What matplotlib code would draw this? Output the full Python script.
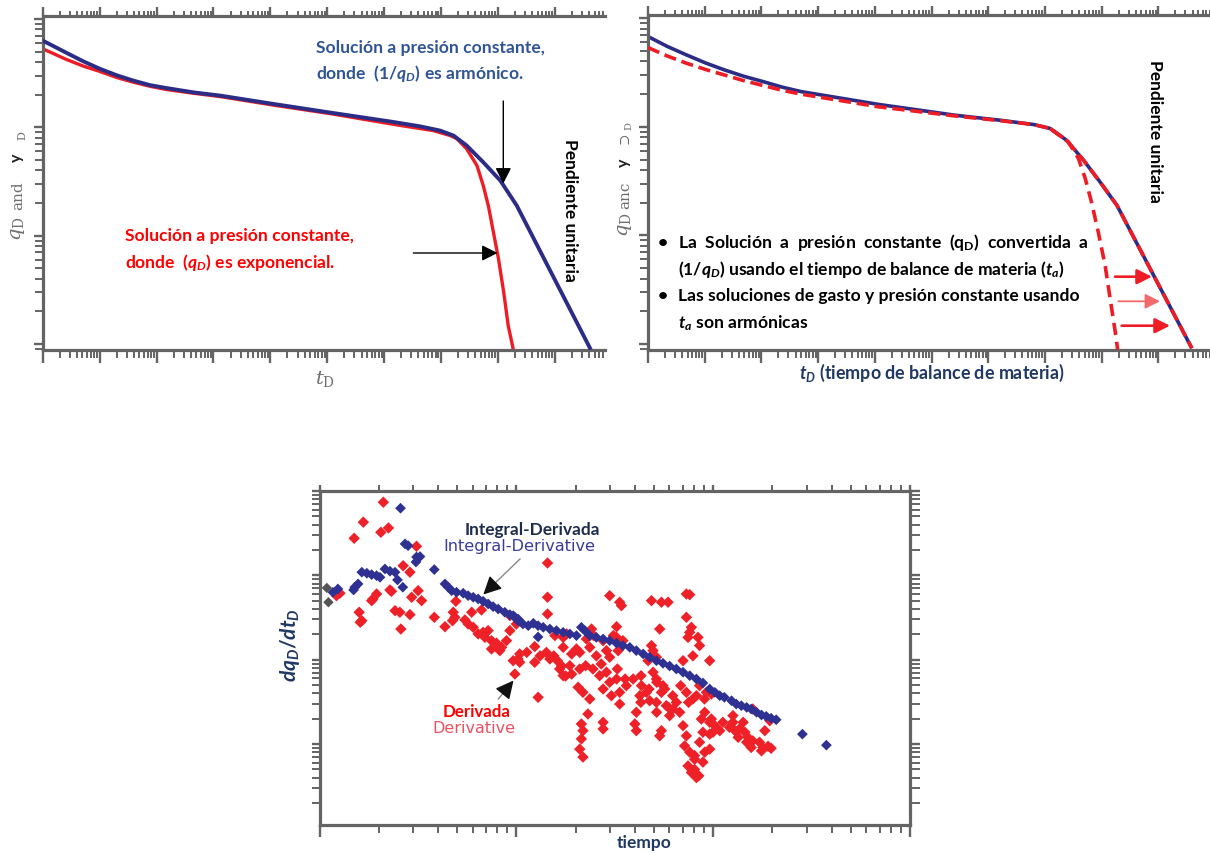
import numpy as np
import matplotlib
matplotlib.use("Agg")
import matplotlib.pyplot as plt
from matplotlib.ticker import LogLocator, NullFormatter
from matplotlib.patches import FancyArrowPatch, ArrowStyle

# ------------------------------------------------------------------ data
# Panel 1 : constant-pressure solutions (harmonic / exponential)
p1_harm_t = [1, 1.54, 2.63, 5.18, 10.2, 20.0, 38.9, 76.9, 151, 447, 1320, 1.15e4,
             1.20e5, 1.29e6, 4.27e6, 9.55e6, 1.66e7, 2.82e7, 5.50e7, 1.10e8, 2.14e8, 4.27e9]
p1_harm_q = [63.1, 56.2, 48.6, 40.6, 34.6, 30.2, 27.0, 24.5, 23.0, 21.0, 19.6, 16.4,
             13.6, 11.3, 10.2, 9.33, 8.38, 6.78, 4.76, 3.22, 1.89, 0.0885]
p1_exp_t = [1, 1.54, 2.63, 5.18, 10.2, 20.0, 38.9, 76.9, 151, 447, 1320, 1.15e4,
            1.20e5, 1.91e6, 7.24e6, 1.45e7, 1.91e7, 2.82e7, 4.27e7, 5.50e7, 6.76e7,
            8.32e7, 1.02e8, 1.26e8, 1.51e8, 1.86e8]
p1_exp_q = [53.0, 47.9, 42.2, 36.7, 32.7, 28.8, 26.1, 23.9, 22.3, 20.6, 19.2, 16.0,
            13.3, 10.4, 9.33, 8.38, 7.82, 6.31, 4.43, 2.90, 1.89,
            1.07, 0.61, 0.30, 0.148, 0.0885]

# Panel 2 : material-balance-time curves
p2_harm_t = [1, 2.19, 4.79, 10.4, 22.4, 49.0, 107, 232, 501, 1.15e4, 2.57e5, 1.62e6,
             6.31e6, 1.23e7, 2.40e7, 4.79e7, 9.33e7, 1.86e8, 3.89e9]
p2_harm_q = [67.9, 55.0, 45.9, 38.7, 33.4, 29.2, 26.1, 23.2, 21.1, 16.1, 12.8, 11.5,
             10.5, 9.66, 7.53, 4.92, 3.11, 1.89, 0.0912]
p2_conv_t = [1, 2.19, 4.79, 10.4, 22.4, 49.0, 107, 232, 501, 1.15e4, 2.57e5, 1.62e6,
             6.31e6, 1.23e7, 2.40e7, 4.79e7, 9.33e7, 1.86e8, 3.89e9]
p2_conv_q = [53.7, 44.9, 38.5, 33.7, 30.0, 26.6, 24.0, 21.7, 20.0, 15.3, 12.6, 11.4,
             10.5, 9.66, 7.53, 4.92, 3.11, 1.89, 0.0912]
p2_exp_t = [1.23e7, 2.57e7, 3.89e7, 5.13e7, 6.61e7, 8.71e7, 1.15e8, 1.41e8, 1.74e8, 1.91e8]
p2_exp_q = [9.66, 7.28, 5.11, 3.34, 2.03, 1.07, 0.528, 0.261, 0.128, 0.089]

# Panel 3 : integral-derivative (blue) and derivative (red)
intder_t = [2.58, 2.72, 2.82, 3.11, 3.24, 3.09, 3.83, 1.64, 1.74, 1.84,
            1.95, 2.03, 2.15, 2.28, 2.42, 1.57, 1.51, 1.49, 1.24, 1.17,
            2.49, 2.65, 4.34, 4.51, 4.69, 4.97, 5.37, 5.69, 6.04, 6.40,
            6.78, 7.19, 7.62, 8.09, 8.74, 9.27, 9.83, 10.2, 9.64, 10.2,
            10.8, 11.5, 12.2, 12.9, 13.7, 14.8, 16.0, 17.3, 18.7, 20.2,
            21.4, 22.3, 23.6, 25.5, 27.6, 29.8, 32.3, 34.8, 37.7, 40.7,
            44.1, 47.6, 51.5, 55.6, 60.1, 65.0, 70.3, 76.0, 82.2, 88.7,
            96.0, 102, 108, 114, 124, 131, 139, 148, 156, 166,
            176, 186, 197, 209, 284, 376, 12.9]
intder_q = [625, 236, 225, 165, 167, 144, 117, 109, 106, 102,
            99.1, 94.8, 119, 112, 109, 79.1, 72.3, 67.1, 69.0, 63.0,
            88.2, 72.3, 79.1, 72.3, 65.8, 63.0, 61.4, 57.4, 55.0, 52.5,
            49.3, 45.8, 42.6, 39.9, 36.5, 34.2, 31.8, 29.0, 33.3, 30.4,
            26.5, 25.3, 27.0, 25.3, 24.2, 23.1, 22.1, 21.1, 20.2, 19.3,
            24.2, 22.1, 19.3, 18.4, 17.6, 16.8, 15.7, 14.7, 14.0, 12.8,
            11.7, 10.7, 9.73, 9.06, 8.41, 7.76, 7.10, 6.46, 5.90, 5.29,
            4.49, 4.10, 3.74, 3.58, 3.26, 2.98, 2.85, 2.72, 2.60, 2.38,
            2.21, 2.13, 2.02, 1.94, 1.31, 0.97, 18.6]
first_t = [1.09, 1.11]
first_q = [70.9, 48.0]

deriv_t = [2.11, 1.67, 2.24, 2.05, 1.50, 3.11, 2.66, 2.88, 1.27, 1.22,
           1.95, 1.87, 1.84, 2.28, 2.32, 3.17, 2.94, 3.30, 1.59, 1.64,
           1.61, 2.42, 2.56, 2.88, 2.59, 3.83, 4.78, 4.87, 4.74, 4.93,
           4.34, 5.93, 5.48, 5.69, 6.65, 6.04, 6.40, 6.78, 7.19, 6.92,
           7.48, 7.93, 8.41, 8.91, 8.24, 7.48, 9.64, 10.2, 10.0, 9.27,
           14.4, 14.4, 14.4, 29.8, 33.5, 34.2, 48.6, 54.6, 59.0, 73.1,
           76.0, 73.1, 77.5, 76.0, 74.5, 83.7, 53.5, 32.3, 24.1, 9.27,
           15.7, 18.0, 17.3, 12.4, 11.3, 10.4, 13.2, 14.2, 14.8, 17.3,
           19.1, 20.2, 21.0, 22.7, 23.6, 25.5, 27.6, 28.7, 29.8, 32.3,
           34.8, 32.9, 48.6, 49.5, 46.7, 51.5, 70.3, 78.9, 96.0, 85.3,
           10.4, 12.4, 9.83, 12.9, 16.6, 17.3, 18.7, 19.1, 21.0, 20.6,
           21.8, 23.6, 23.1, 21.4, 21.8, 21.4, 21.0, 21.8, 27.6, 27.6,
           24.5, 26.5, 28.7, 29.8, 27.6, 30.4, 33.5, 32.3, 36.2, 33.5,
           40.7, 40.0, 40.7, 39.2, 43.2, 45.8, 42.4, 47.6, 51.5, 49.5,
           55.6, 54.6, 51.5, 54.6, 53.5, 57.8, 62.5, 60.1, 65.0, 67.6,
           70.3, 73.1, 71.6, 76.0, 74.5, 77.5, 82.2, 80.5, 85.3, 88.7,
           87.1, 96.0, 99.8, 96.0, 88.7, 73.1, 78.9, 85.3, 92.4, 97.9,
           97.9, 102, 96.0, 108, 112, 126, 126, 121, 129, 136,
           134, 142, 145, 150, 148, 156, 159, 159, 183, 172,
           179, 190, 176, 197, 194, 15.5, 16.2, 17.0, 17.8, 22.5,
           32.6, 35.7, 43.0, 47.2, 51.7, 56.7, 62.3, 68.4, 75.0, 82.2,
           90.3, 42.9, 51.6, 59.4, 80.4, 84.5, 80.4, 90.6, 90.6, 24.7,
           31.1, 27.0]
deriv_q = [736, 427, 365, 324, 275, 221, 130, 109, 61.4, 57.4,
           60.1, 52.5, 50.1, 67.1, 64.7, 65.8, 55.0, 50.1, 36.5, 29.0,
           27.8, 38.1, 36.5, 34.2, 23.1, 31.8, 36.5, 31.8, 29.0, 49.3,
           24.6, 36.5, 29.6, 26.5, 38.9, 24.2, 20.2, 21.1, 22.1, 18.4,
           16.8, 15.7, 14.0, 16.8, 12.8, 13.4, 9.73, 10.2, 26.5, 22.1,
           140, 55.0, 34.8, 57.4, 48.0, 43.7, 50.1, 48.0, 48.0, 60.1,
           59.0, 31.8, 24.2, 21.1, 18.4, 18.4, 23.1, 24.6, 23.1, 33.3,
           19.3, 20.2, 18.4, 14.3, 12.2, 11.7, 11.1, 12.2, 10.2, 14.0,
           11.7, 13.4, 12.2, 17.6, 14.0, 11.1, 16.8, 12.8, 10.7, 18.4,
           16.8, 12.8, 14.7, 12.8, 9.73, 10.7, 9.73, 11.1, 9.73, 14.7,
           9.31, 9.31, 6.76, 3.58, 7.76, 6.46, 8.49, 6.76, 7.76, 4.71,
           4.10, 3.42, 2.27, 1.73, 1.44, 1.15, 0.87, 0.70, 1.81, 1.51,
           7.76, 6.46, 7.10, 5.40, 4.49, 3.74, 4.10, 5.90, 4.92, 2.98,
           2.38, 1.73, 1.44, 5.90, 4.92, 4.10, 3.74, 3.26, 5.90, 7.10,
           4.92, 4.10, 3.12, 1.44, 1.25, 2.85, 2.60, 2.17, 3.12, 2.38,
           1.65, 1.25, 0.95, 0.80, 0.55, 0.46, 0.40, 0.66, 1.05, 1.38,
           1.98, 1.81, 1.38, 0.87, 0.61, 4.10, 3.42, 4.92, 4.10, 3.92,
           1.98, 1.65, 1.31, 1.44, 1.81, 2.17, 1.81, 1.58, 1.44, 1.51,
           1.20, 1.81, 1.38, 1.20, 1.05, 0.91, 1.09, 2.60, 1.44, 1.05,
           0.91, 0.94, 0.83, 0.89, 1.89, 11.1, 9.66, 8.41, 6.41, 8.49,
           7.76, 5.90, 6.46, 4.49, 5.40, 4.49, 3.74, 4.92, 3.12, 3.74,
           3.42, 3.12, 2.38, 2.72, 0.73, 0.42, 0.50, 0.80, 2.38, 19.3,
           19.3, 8.89]

# ------------------------------------------------------------------ style
plt.rcParams['font.family'] = ['Lato', 'DejaVu Sans']
plt.rcParams['mathtext.fontset'] = 'custom'
plt.rcParams['mathtext.rm'] = 'Lato:bold'
plt.rcParams['mathtext.it'] = 'Lato:bold:italic'
plt.rcParams['mathtext.bf'] = 'Lato:bold'

W, H = 1210, 854
fig = plt.figure(figsize=(W / 100, H / 100), dpi=100)
fig.patch.set_facecolor('white')

GRAY = '#646464'
BLUE = '#2B2C86'
RED = '#EE1C25'
NAVY = '#1F3864'


def rect(l, t, r, b):
    return [l / W, 1 - b / H, (r - l) / W, (b - t) / H]


def fp(x, y):
    return (x / W, 1 - y / H)


def T(x, y, s, **kw):
    kw.setdefault('ha', 'left')
    kw.setdefault('va', 'center')
    fig.text(x / W, 1 - y / H, s, **kw)


def arrow(p0, p1, color='k', lw=1.0, hl=0.95, hw=0.48, ms=10, z=10):
    fig.add_artist(FancyArrowPatch(fp(*p0), fp(*p1), transform=fig.transFigure,
                                   arrowstyle=ArrowStyle('-|>', head_length=hl, head_width=hw),
                                   mutation_scale=ms, lw=lw, color=color,
                                   shrinkA=0, shrinkB=0, zorder=z))


def set_log(axis):
    axis.set_major_locator(LogLocator(10, numticks=40))
    axis.set_minor_locator(LogLocator(10, subs=np.arange(2, 10), numticks=40))
    axis.set_major_formatter(NullFormatter())
    axis.set_minor_formatter(NullFormatter())


def make_axes(r, xlim, ylim, right=False, bot=(9, 5.5), top=(6.5, 3.6),
              left=(6.5, 6.0), rgt=(7.2, 7.2)):
    ax = fig.add_axes(r)
    ax.set_xscale('log'); ax.set_yscale('log')
    ax.set_xlim(*xlim); ax.set_ylim(*ylim)
    set_log(ax.xaxis); set_log(ax.yaxis)
    for s in ax.spines.values():
        s.set_color(GRAY); s.set_linewidth(2.3)
    ax.spines['right'].set_visible(right)
    ax.tick_params(which='both', direction='out', color=GRAY,
                   bottom=True, left=True, top=False, right=False,
                   labelbottom=False, labelleft=False)
    ax.tick_params(axis='x', which='major', length=bot[0], width=1.7)
    ax.tick_params(axis='x', which='minor', length=bot[1], width=1.4)
    ax.tick_params(axis='y', which='major', length=left[0], width=1.7)
    ax.tick_params(axis='y', which='minor', length=left[1], width=1.4)
    axt = ax.twiny()
    axt.set_xscale('log'); axt.set_xlim(*xlim)
    set_log(axt.xaxis)
    for s in axt.spines.values():
        s.set_visible(False)
    axt.tick_params(axis='x', which='both', direction='out', color=GRAY,
                    top=True, bottom=False, labeltop=False, labelbottom=False)
    axt.tick_params(axis='x', which='major', length=top[0], width=1.7)
    axt.tick_params(axis='x', which='minor', length=top[1], width=1.4)
    if right:
        axr = ax.twinx()
        axr.set_yscale('log'); axr.set_ylim(*ylim)
        set_log(axr.yaxis)
        for s in axr.spines.values():
            s.set_visible(False)
        axr.tick_params(axis='y', which='both', direction='out', color=GRAY,
                        right=True, left=False, labelright=False, labelleft=False)
        axr.tick_params(axis='y', which='major', length=rgt[0], width=1.7)
        axr.tick_params(axis='y', which='minor', length=rgt[1], width=1.4)
    return ax


YLIM12 = (10 ** -1.053, 10 ** 2.03)

# ------------------------------------------------------------------ panel 1
ax1 = make_axes(rect(42.7, 16.7, 605, 350.7), (1, 10 ** 9.88), YLIM12)
ax1.plot(p1_harm_t, p1_harm_q, color=BLUE, lw=2.8, solid_capstyle='butt', zorder=3)
ax1.plot(p1_exp_t, p1_exp_q, color=RED, lw=2.4, solid_capstyle='butt', zorder=2)

FS1 = 12.6
T(315.7, 47.7, "Solución a presión constante,", color='#2F5597', fontsize=FS1, fontweight='bold')
T(315.7, 73.3, r"donde  ($\mathit{1/q_D}$) es armónico.", color='#2F5597', fontsize=FS1, fontweight='bold')
T(124.6, 235.7, "Solución a presión constante,", color='#FF0000', fontsize=FS1, fontweight='bold')
T(124.6, 262.7, r"donde  ($q_D$) es exponencial.", color='#FF0000', fontsize=FS1, fontweight='bold')
T(570, 210, "Pendiente unitaria", color='black', fontsize=12.5, fontweight='bold',
  rotation=-90, ha='center')
arrow((503.3, 102), (503.3, 184.5))
arrow((413.3, 254), (497.5, 254))

T(325, 379, r"$t_\mathrm{D}$", color='#6E6E6E', fontsize=14, ha='center',
  math_fontfamily='dejavuserif')
T(18, 229, r"$q_\mathrm{D}$", color='#6E6E6E', fontsize=14, ha='center', rotation=90,
  math_fontfamily='dejavuserif')
T(18, 196, "and", color='#6E6E6E', fontsize=11, ha='center', rotation=90, family='DejaVu Serif')
T(17, 158, "y", color='#222222', fontsize=11.5, fontweight='bold', ha='center', rotation=90)
T(22, 136, r"$\mathrm{D}$", color='#6E6E6E', fontsize=8, ha='center', rotation=90,
  math_fontfamily='dejavuserif')

# ------------------------------------------------------------------ panel 2
ax2 = make_axes(rect(648, 16, 1210, 350.7), (1, 10 ** 9.91), YLIM12)
ax2.plot(p2_harm_t, p2_harm_q, color=BLUE, lw=2.6, solid_capstyle='butt', zorder=2)
ax2.plot(p2_conv_t, p2_conv_q, color=RED, lw=2.6, dashes=(3.4, 1.6), zorder=3)
ax2.plot(p2_exp_t, p2_exp_q, color=RED, lw=2.6, dashes=(3.4, 1.9), zorder=3)

T(1155, 131, "Pendiente unitaria", color='black', fontsize=12.5, fontweight='bold',
  rotation=-90, ha='center')
arrow((1115, 277.7), (1152, 277.7), color=RED, lw=1.9, hl=0.9, hw=0.45)
arrow((1118.3, 302.3), (1160, 302.3), color='#F46A6A', lw=1.3, hl=0.9, hw=0.45)
arrow((1121.7, 326.7), (1170, 326.7), color=RED, lw=1.9, hl=0.9, hw=0.45)

FS2 = 12.6
T(662.6, 242.7, "•", color='black', fontsize=FS2, fontweight='bold', ha='center')
T(662.6, 296, "•", color='black', fontsize=FS2, fontweight='bold', ha='center')
T(678, 242.7, r"La  Solución  a  presión  constante  (q$_\mathrm{D}$)  convertida  a",
  color='black', fontsize=FS2, fontweight='bold')
T(678, 269.3, r"($\mathit{1/q_D}$) usando el tiempo de balance de materia ($t_a$)",
  color='black', fontsize=FS2, fontweight='bold')
T(678, 296, "Las soluciones de gasto y presión constante usando",
  color='black', fontsize=FS2, fontweight='bold')
T(678, 322.7, r"$t_a$ son armónicas", color='black', fontsize=FS2, fontweight='bold')

T(932, 373, r"$t_D$ (tiempo de balance de materia)", color=NAVY, fontsize=12.9,
  fontweight='bold', ha='center')
T(625, 225, r"$q_\mathrm{D}$", color='#6E6E6E', fontsize=14, ha='center', rotation=90,
  math_fontfamily='dejavuserif')
T(625, 195, "anc", color='#6E6E6E', fontsize=11, ha='center', rotation=90, family='DejaVu Serif')
T(624, 163, "y", color='#222222', fontsize=11.5, fontweight='bold', ha='center', rotation=90)
T(627, 135, r"$\supset_\mathrm{D}$", color='#6E6E6E', fontsize=10, ha='center', rotation=90,
  math_fontfamily='dejavuserif')

# ------------------------------------------------------------------ panel 3
ax3 = make_axes(rect(319.5, 492, 910, 826), (1, 1000), (10 ** -0.96, 1000), right=True,
                bot=(8.4, 5.8), top=(4.3, 4.3), left=(5.8, 5.8), rgt=(7.2, 7.2))
ax3.spines['right'].set_visible(True)
ax3.scatter(deriv_t, deriv_q, marker='D', s=34, color='#EE2129', edgecolors='none', zorder=2)
ax3.scatter(intder_t, intder_q, marker='D', s=30, color='#2E3192', edgecolors='none', zorder=3)
ax3.scatter(first_t, first_q, marker='D', s=28, color='#555555', edgecolors='none', zorder=3)

T(465, 530, "Integral-Derivada", color='#1F2D4D', fontsize=12.4, fontweight='bold')
T(443, 547, "Integral-Derivative", color='#3A3A9E', fontsize=11.6, family='DejaVu Sans')
T(476.5, 711.7, "Derivada", color='#FF0000', fontsize=12.2, fontweight='bold', ha='center')
T(474, 729, "Derivative", color='#EE5060', fontsize=11.5, family='DejaVu Sans', ha='center')
T(644, 843, "tiempo", color=NAVY, fontsize=12.5, fontweight='bold', ha='center')
T(290, 645, r"$dq_D/dt_D$", color=NAVY, fontsize=15, ha='center', rotation=90)

fig.add_artist(plt.Line2D([520 / W, 492 / W], [1 - 560 / H, 1 - 587 / H],
                          transform=fig.transFigure, color='#888888', lw=1.0))
arrow((492, 587), (483.3, 595.5), color='#111111', lw=1.0, hl=1.1, hw=0.55)
fig.add_artist(plt.Line2D([498.3 / W, 507 / W], [1 - 700 / H, 1 - 689.5 / H],
                          transform=fig.transFigure, color='#888888', lw=1.0))
arrow((507, 689.5), (513.5, 681.5), color='#111111', lw=1.0, hl=1.1, hw=0.55)

fig.savefig("out.png", dpi=100, facecolor='white')
